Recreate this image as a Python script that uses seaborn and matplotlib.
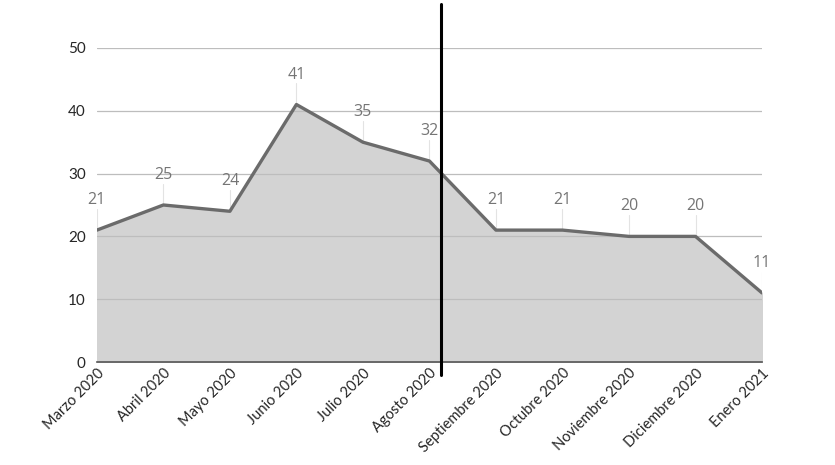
import pandas as pd
import seaborn as sns
import matplotlib.pyplot as plt

months = ["Marzo 2020", "Abril 2020", "Mayo 2020", "Junio 2020", "Julio 2020",
          "Agosto 2020", "Septiembre 2020", "Octubre 2020", "Noviembre 2020",
          "Diciembre 2020", "Enero 2021"]
values = [21, 25, 24, 41, 35, 32, 21, 21, 20, 20, 11]
yticks = [0, 10, 20, 30, 40, 50]

df = pd.DataFrame({"mes": months, "valor": values})
df["pos"] = range(len(df))

sns.set_style("white")
plt.rcParams["font.family"] = ["Lato", "DejaVu Sans"]

fig = plt.figure(figsize=(8.35, 4.65), dpi=100)
ax = fig.add_axes([0.116, 0.2215, 0.7966, 0.6753])

ax.fill_between(df["pos"], df["valor"], color="#d3d3d3", zorder=1)
# gridlines drawn over the fill, as in the reference
for t in yticks[1:]:
    ax.axhline(t, color="#bdbdbd", linewidth=0.9, zorder=1.5)
sns.lineplot(data=df, x="pos", y="valor", ax=ax, color="#6b6b6b", linewidth=2.4, zorder=3)

# value labels with thin leader lines
for p, v in zip(df["pos"], df["valor"]):
    ax.plot([p, p], [v, v + 3.4], color="#e3e3e3", linewidth=0.8, zorder=2)
    ax.text(p, v + 3.5, str(v), ha="center", va="bottom", fontsize=11.5,
            color="#757575", family=["Open Sans", "DejaVu Sans"])

ax.set_xlim(0, len(df) - 1)
ax.set_ylim(0, 50)
ax.set_yticks(yticks)
ax.set_xticks(df["pos"])
ax.set_xticklabels(df["mes"], rotation=45, ha="right", rotation_mode="anchor", fontsize=10.5)
ax.tick_params(axis="y", labelsize=11, length=0, pad=8)
ax.tick_params(axis="x", length=0, pad=3)
ax.set_xlabel("")
ax.set_ylabel("")
for s in ["top", "right", "left"]:
    ax.spines[s].set_visible(False)
ax.spines["bottom"].set_color("#555555")
ax.spines["bottom"].set_linewidth(1.2)
ax.spines["bottom"].set_zorder(4)

# black vertical divider after Agosto
ax.plot([5.17, 5.17], [-2.1, 57], color="black", linewidth=2.2, clip_on=False, zorder=5)

fig.savefig("out.png", dpi=100)
